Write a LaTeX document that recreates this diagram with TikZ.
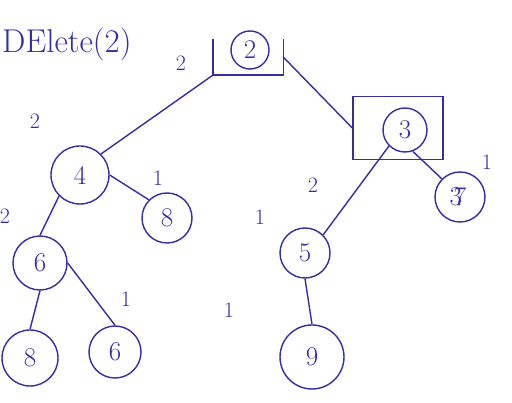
\documentclass[tikz,border=0pt]{standalone}
\definecolor{ink}{RGB}{52,45,165}
\begin{document}
\begin{tikzpicture}[x=1pt,y=-1pt,
  ink/.style={draw=ink,line width=1.4pt},
  tnode/.style={ink,circle,inner sep=0pt,text=ink,font=\fontsize{27}{27}\selectfont},
  lbl/.style={text=ink,font=\fontsize{22}{22}\selectfont,inner sep=0pt},
  edge/.style={ink}]
\useasboundingbox[fill=white] (0,0) rectangle (512,403);
% title
\node[lbl,anchor=west,font=\fontsize{33}{33}\selectfont] (title) at (2,44) {DElete(2)};
% nodes
\node[tnode,minimum size=38pt] (n2) at (250,50) {2};
\node[minimum width=70pt,minimum height=36pt,inner sep=0pt] (b2) at (248,57) {};
\draw[ink] (b2.north west) -- (b2.south west) -- (b2.south east) -- (b2.north east);
\node[tnode,minimum size=44pt] (n3) at (405,130) {3};
\node[ink,minimum width=90pt,minimum height=63pt,inner sep=0pt] (b3) at (398,128) {};
\node[tnode,minimum size=50pt] (n37) at (460,197) {$\!$3$\!\!$7};
\node[tnode,minimum size=58pt] (n4) at (80,175) {4};
\node[tnode,minimum size=50pt] (n8a) at (167,218) {8};
\node[tnode,minimum size=54pt] (n6a) at (40,263) {6};
\node[tnode,minimum size=50pt] (n5) at (305,253) {5};
\node[tnode,minimum size=56pt] (n8b) at (30,358) {8};
\node[tnode,minimum size=52pt] (n6b) at (115,352) {6};
\node[tnode,minimum size=64pt] (n9) at (312,357) {9};
% edges
\draw[edge] (b2.south west) -- (n4.north east);
\draw[edge] (b2.east) -- (b3.west);
\draw[edge] (n3.south west) -- (n5.north east);
\draw[edge] (n3.-70) -- (n37.north west);
\draw[edge] (n4.east) -- (n8a.north west);
\draw[edge] (n4.south west) -- (n6a.north);
\draw[edge] (n6a.south) -- (n8b.north);
\draw[edge] (n6a.east) -- (n6b.north);
\draw[edge] (n5.south) -- (n9.north);
% balance labels
\node[lbl] (l2) at (181,63) {2};
\node[lbl] (l3) at (313,185) {2};
\node[lbl] (l37) at (487,162) {1};
\node[lbl] (l4) at (35,121) {2};
\node[lbl] (l8a) at (158,178) {1};
\node[lbl] (l6a) at (5,216) {2};
\node[lbl] (l5) at (260,217) {1};
\node[lbl] (l6b) at (126,299) {1};
\node[lbl] (l9) at (229,310) {1};
\end{tikzpicture}
\end{document}
